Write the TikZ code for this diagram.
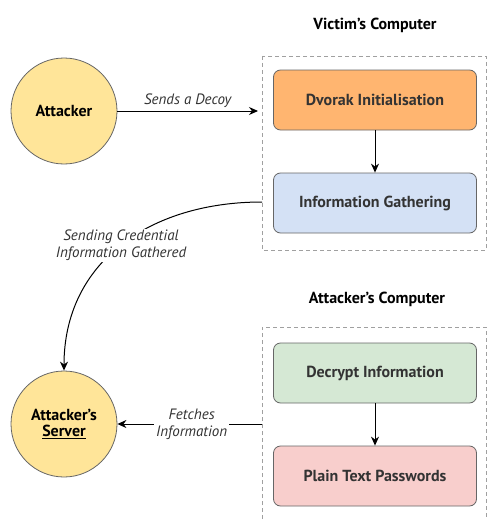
\documentclass[tikz,border=0pt]{standalone}
\usepackage{fontspec}
\setmainfont{PT Sans}
\usetikzlibrary{arrows.meta}
\definecolor{circfill}{HTML}{FFE599}
\definecolor{orangefill}{HTML}{FFB570}
\definecolor{bluefill}{HTML}{D4E1F5}
\definecolor{greenfill}{HTML}{D5E8D4}
\definecolor{pinkfill}{HTML}{F8CECC}
\definecolor{edgegray}{HTML}{666666}
\definecolor{dashgray}{HTML}{A0A0A0}
\definecolor{boxtext}{HTML}{333333}
\tikzset{
  actor/.style={circle, draw=edgegray, fill=circfill, line width=0.8pt, minimum size=106pt, inner sep=0pt,
    font=\fontsize{16}{18}\selectfont\bfseries, align=center, text=black},
  procbox/.style={rounded corners=7pt, draw=edgegray, line width=0.8pt, minimum width=203pt, minimum height=60pt,
    inner sep=0pt, font=\fontsize{16}{18}\selectfont\bfseries, text=boxtext},
  title/.style={font=\fontsize{16}{18}\selectfont\bfseries, text=black},
  lbl/.style={font=\fontsize{15}{17}\selectfont\itshape, text=boxtext, align=center},
  conn/.style={line width=1pt, -{Stealth[length=9pt,width=8pt]}},
  groupline/.style={draw=dashgray, dash pattern=on 4pt off 3pt, line width=0.8pt}
}
\begin{document}
\begin{tikzpicture}[x=1pt,y=-1pt]
\useasboundingbox[fill=white] (0,0) rectangle (487,519);
% groups
\draw[groupline] (262,56) rectangle (486,250);
\draw[groupline] (262,519) -- (262,327) -- (486,327) -- (486,519);
\coordinate (attleft) at (262,424);
\coordinate (igleft) at (262,202);
% titles
\node[title] (t1) at (375,25) {Victim's Computer};
\node[title] (t2) at (377,299) {Attacker's Computer};
% actors
\node[actor] (att) at (64,111) {Attacker};
\node[actor] (srv) at (64,424) {Attacker's\\[-2pt]\underline{Server}};
% boxes
\node[procbox, fill=orangefill] (dv) at (375,100) {Dvorak Initialisation};
\node[procbox, fill=bluefill] (ig) at (375,203) {Information Gathering};
\node[procbox, fill=greenfill] (de) at (375,373) {Decrypt Information};
\node[procbox, fill=pinkfill] (pt) at (375,476) {Plain Text Passwords};
% connectors
\draw[conn] (att) -- (258,111) node[lbl, midway, above=0pt] (l1) {Sends a Decoy};
\draw[conn] (dv) -- (ig);
\draw[conn] (de) -- (pt);
\draw[conn] (attleft) -- (srv) node[lbl, midway, fill=white, inner sep=2pt, xshift=2pt] (l3) {Fetches\\Information};
\draw[conn] (igleft) .. controls (150,202) and (64,262) .. (srv.north)
  node[lbl, pos=0.5, fill=white, inner sep=1pt] (l2) {Sending Credential\\Information Gathered};
\end{tikzpicture}
\end{document}
